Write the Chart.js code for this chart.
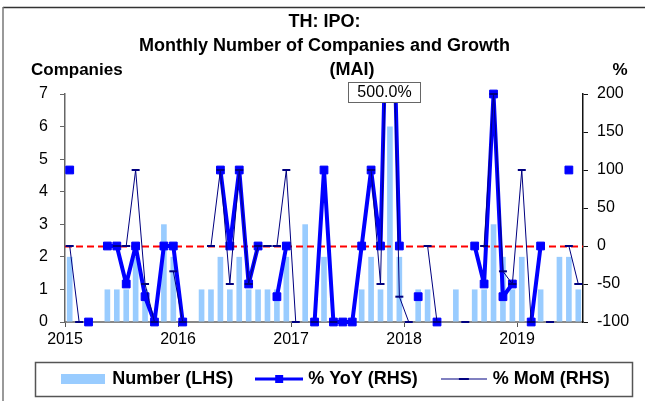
<!DOCTYPE html>
<html>
<head>
<meta charset="utf-8">
<title>TH: IPO (MAI)</title>
<script src="https://cdn.jsdelivr.net/npm/chart.js@4.4.1/dist/chart.umd.min.js"></script>
<style>
  html, body { margin: 0; padding: 0; background: #fff; }
  #wrap { position: relative; width: 645px; height: 401px; }
</style>
</head>
<body>
<div id="wrap"><canvas id="ipo-chart" width="645" height="401"></canvas></div>
<script>
// categories: Jan 2015 .. Jul 2019
const monthNames = ['Jan', 'Feb', 'Mar', 'Apr', 'May', 'Jun', 'Jul', 'Aug', 'Sep', 'Oct', 'Nov', 'Dec'];
const yearLabels = ['2015', '2016', '2017', '2018', '2019'];
const yearTicks = [0, 12, 24, 36, 48]; // position of January of each year
const months = [];
yearLabels.forEach(y => monthNames.forEach(m => months.push(m + ' ' + y)));
months.length = 55;

// number of companies (LHS)
const numberCompanies = [
   2, 0, 0, 0, 1, 1, 1, 2, 1, 0, 3, 2,
   0, 0, 1, 1, 2, 1, 2, 1, 1, 1, 1, 2,
   0, 3, 0, 2, 0, 0, 0, 1, 2, 1, 6, 2,
   0, 1, 1, 0, 0, 1, 0, 1, 1, 3, 2, 1,
   2, 0, 1, 0, 2, 2, 1
];

// % YoY (RHS), null = no value
const yoyGrowth = [
   100, null, -100, null, 0, 0, -50, 0, -66.7, -100, 0, 0,
   -100, null, null, null, 100, 0, 100, -50, 0, null, -66.7, 0,
   null, null, -100, 100, -100, -100, -100, 0, 100, 0, 500, 0,
   null, -66.7, null, -100, null, null, null, 0, -50, 200, -66.7, -50,
   null, -100, 0, null, null, 100, null
];

// % MoM (RHS)
const momGrowth = [
   0, -100, null, null, null, 0, 0, 100, -50, -100, null, -33.3,
   -100, null, null, 0, 100, -50, 100, -50, 0, 0, 0, 100,
   -100, null, -100, null, -100, null, null, null, 100, -50, 500, -66.7,
   -100, null, 0, -100, null, null, -100, null, 0, 200, -33.3, -50,
   100, -100, null, -100, null, 0, -50
];

const fontFamily = 'Arial, "Liberation Sans", Helvetica, sans-serif';
const barColor = '#99ccff';
const yoyColor = '#0000ff';
const momColor = '#000080';

// little pictures for the legend
function makeIcon(w, h, draw) {
   const c = document.createElement('canvas');
   c.width = w;
   c.height = h;
   draw(c.getContext('2d'));
   return c;
}
const numberIcon = makeIcon(44, 10, g => {
   g.fillStyle = barColor;
   g.fillRect(0, 0, 44, 10);
});
const yoyIcon = makeIcon(48, 10, g => {
   g.strokeStyle = yoyColor;
   g.lineWidth = 3;
   g.beginPath(); g.moveTo(0, 5); g.lineTo(48, 5); g.stroke();
   g.fillStyle = yoyColor;
   g.fillRect(20, 1, 8, 8);
});
const momIcon = makeIcon(46, 6, g => {
   g.strokeStyle = '#8080c0';
   g.lineWidth = 2;
   g.beginPath(); g.moveTo(0, 3); g.lineTo(46, 3); g.stroke();
   g.fillStyle = momColor;
   g.fillRect(18, 2, 10, 2);
});

const framePlugin = {
   id: 'frame',
   beforeDraw(chart) {
      const ctx = chart.ctx;
      ctx.save();
      ctx.fillStyle = '#fff';
      ctx.fillRect(0, 0, chart.width, chart.height);
      ctx.strokeStyle = '#333';
      ctx.lineWidth = 1.5;
      ctx.beginPath(); ctx.moveTo(3, 7.5); ctx.lineTo(chart.width, 7.5); ctx.stroke();
      ctx.strokeStyle = '#777';
      ctx.beginPath(); ctx.moveTo(3, 7); ctx.lineTo(3, chart.height); ctx.stroke();
      ctx.restore();
   }
};

// nudge the legend a little to the right, like the original
const legendShiftPlugin = {
   id: 'legendShift',
   afterLayout(chart) {
      if (!chart.legend) return;
      chart.legend.left += 12;
      chart.legend.right += 12;
   }
};

// red dashed 0% line, above the bars but under the growth lines
const zeroLinePlugin = {
   id: 'zeroLine',
   beforeDatasetDraw(chart, args) {
      if (args.index !== 1) return;
      const ctx = chart.ctx;
      const y = Math.round(chart.scales.y2.getPixelForValue(0)) + 0.5;
      const area = chart.chartArea;
      ctx.save();
      ctx.strokeStyle = '#ff0000';
      ctx.lineWidth = 2;
      ctx.setLineDash([7, 4]);
      ctx.beginPath(); ctx.moveTo(area.left, y); ctx.lineTo(area.right, y); ctx.stroke();
      ctx.restore();
   }
};

const extrasPlugin = {
   id: 'extras',
   afterDraw(chart) {
      const ctx = chart.ctx;
      const area = chart.chartArea;
      ctx.save();
      ctx.fillStyle = '#000';
      ctx.textBaseline = 'middle';
      // last title line sits a bit right of centre
      ctx.font = 'bold 18px ' + fontFamily;
      ctx.textAlign = 'center';
      ctx.fillText('(MAI)', 352, 70);
      // axis captions
      ctx.font = 'bold 17px ' + fontFamily;
      ctx.textAlign = 'left';
      ctx.fillText('Companies', 31, 70);
      ctx.textAlign = 'center';
      ctx.fillText('%', 620, 70);

      // value that runs off the top of the % axis
      const yMax = chart.scales.y2.max;
      yoyGrowth.forEach((v, i) => {
         if (v === null || v <= yMax) return;
         const px = chart.scales.x.getPixelForValue(i);
         const left = Math.round(px - 42) + 0.5;
         const top = Math.round(area.top - 12) + 0.5;
         ctx.fillStyle = '#fff';
         ctx.fillRect(left, top, 72, 20);
         ctx.strokeStyle = '#666';
         ctx.lineWidth = 1;
         ctx.strokeRect(left, top, 72, 20);
         ctx.fillStyle = '#000';
         ctx.font = '16px ' + fontFamily;
         ctx.textAlign = 'center';
         ctx.fillText(v.toFixed(1) + '%', left + 36, top + 10.5);
      });

      // border round the legend
      const lg = chart.legend;
      if (lg && lg.legendHitBoxes.length) {
         const boxes = lg.legendHitBoxes;
         const l = Math.min(...boxes.map(b => b.left)) - 28;
         const r = Math.max(...boxes.map(b => b.left + b.width)) + 22;
         const cy = boxes[0].top + boxes[0].height / 2;
         ctx.strokeStyle = '#555';
         ctx.lineWidth = 1.5;
         ctx.strokeRect(Math.round(l) + 0.5, Math.round(cy - 17) + 0.5, Math.round(r - l), 34);
      }
      ctx.restore();
   }
};

const ctx = document.getElementById('ipo-chart');

new Chart(ctx, {
   type: 'bar',
   data: {
      labels: months,
      datasets: [
         {
            type: 'line',
            label: '% MoM (RHS)',
            data: momGrowth,
            xAxisID: 'x',
            yAxisID: 'y2',
            order: 0,
            borderColor: momColor,
            borderWidth: 1,
            borderJoinStyle: 'round',
            pointStyle: 'line',
            pointRadius: 4,
            pointBorderWidth: 2,
            pointBorderColor: momColor,
            pointBackgroundColor: momColor,
            spanGaps: false,
            tension: 0,
            clip: { left: 6, right: 6, top: 8, bottom: 6 }
         },
         {
            type: 'line',
            label: '% YoY (RHS)',
            data: yoyGrowth,
            xAxisID: 'x',
            yAxisID: 'y2',
            order: 1,
            borderColor: yoyColor,
            borderWidth: 4,
            borderJoinStyle: 'round',
            pointStyle: 'rect',
            pointRadius: 5.5,
            pointBorderWidth: 1,
            pointBorderColor: yoyColor,
            pointBackgroundColor: yoyColor,
            spanGaps: false,
            tension: 0,
            clip: { left: 6, right: 6, top: 8, bottom: 6 }
         },
         {
            label: 'Number (LHS)',
            data: numberCompanies,
            xAxisID: 'x',
            yAxisID: 'y',
            order: 2,
            backgroundColor: barColor,
            borderWidth: 0,
            barPercentage: 0.6,
            categoryPercentage: 1
         }
      ]
   },
   options: {
      responsive: false,
      devicePixelRatio: 1,
      animation: false,
      layout: {
         padding: { left: 4, right: 0, top: 0, bottom: 3 }
      },
      scales: {
         x: {
            type: 'category',
            display: false,
            offset: true
         },
         years: {
            type: 'linear',
            position: 'bottom',
            min: 0,
            max: months.length,
            offset: false,
            afterBuildTicks: (scale) => {
               scale.ticks = yearTicks.map(v => ({ value: v }));
            },
            afterFit: (scale) => { scale.height = 22; },
            grid: {
               offset: false,
               drawOnChartArea: false,
               drawTicks: true,
               tickLength: 5,
               color: '#555'
            },
            border: { display: true, color: '#888', width: 2 },
            ticks: {
               autoSkip: false,
               maxRotation: 0,
               padding: 3,
               color: '#000',
               font: { family: fontFamily, size: 16 },
               callback: (value) => yearLabels[yearTicks.indexOf(value)]
            }
         },
         y: {
            position: 'left',
            min: 0,
            max: 7,
            afterFit: (scale) => { scale.width = 61; },
            grid: {
               drawOnChartArea: false,
               drawTicks: true,
               tickLength: 5,
               color: '#666'
            },
            border: { display: true, color: '#666', width: 1.5 },
            ticks: {
               stepSize: 1,
               padding: 12,
               color: '#000',
               font: { family: fontFamily, size: 16 }
            }
         },
         y2: {
            position: 'right',
            min: -100,
            max: 200,
            afterFit: (scale) => { scale.width = 62; },
            grid: {
               drawOnChartArea: false,
               drawTicks: true,
               tickLength: 5,
               color: '#111'
            },
            border: { display: true, color: '#111', width: 1.5 },
            ticks: {
               stepSize: 50,
               padding: 9,
               color: '#000',
               font: { family: fontFamily, size: 16 }
            }
         }
      },
      plugins: {
         title: {
            display: true,
            text: ['TH: IPO:', 'Monthly Number of Companies and Growth'],
            color: '#000',
            font: { family: fontFamily, size: 18, weight: 'bold', lineHeight: '24px' },
            padding: { top: 10, bottom: 36 }
         },
         legend: {
            display: true,
            position: 'bottom',
            labels: {
               usePointStyle: true,
               pointStyleWidth: 40,
               padding: 26,
               color: '#000',
               font: { family: fontFamily, size: 18, weight: 'bold' },
               generateLabels: () => [
                  { text: 'Number (LHS)', pointStyle: numberIcon, datasetIndex: 2, hidden: false, lineWidth: 0 },
                  { text: '% YoY (RHS)', pointStyle: yoyIcon, datasetIndex: 1, hidden: false, lineWidth: 0 },
                  { text: '% MoM (RHS)', pointStyle: momIcon, datasetIndex: 0, hidden: false, lineWidth: 0 }
               ]
            }
         },
         tooltip: { enabled: false }
      }
   },
   plugins: [framePlugin, legendShiftPlugin, zeroLinePlugin, extrasPlugin]
});
</script>
</body>
</html>
